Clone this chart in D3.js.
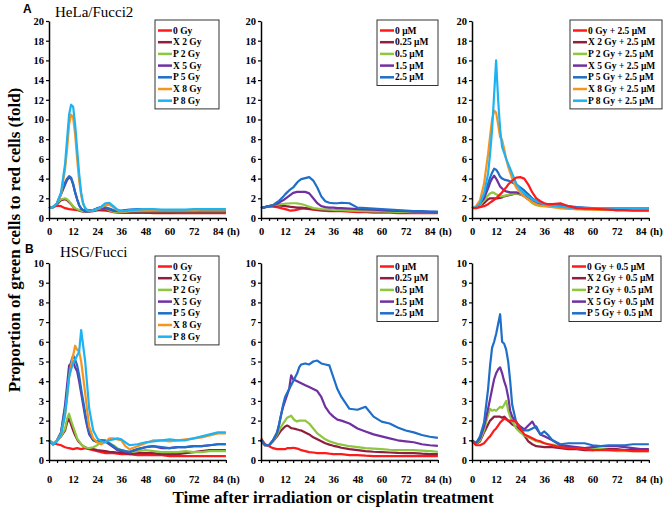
<!DOCTYPE html>
<html><head><meta charset="utf-8">
<script src="https://cdn.jsdelivr.net/npm/d3@7"></script>
<style>body{margin:0;background:#fff} svg{display:block}</style>
</head><body><svg id="c" width="666" height="512"></svg>
<script>
// ---------- DATA ----------
const times = [0,2,4,6,8, 9,10,11,12,13,14,15,16,17,18,19,20, 22,24,26,28,30,32,34,36,38,40, 44,48,52,56,60,64,68,72,76,80,84,88];
const xTickLabels = [0,12,24,36,48,60,72,84];

const irLabels = ["0 Gy","X 2 Gy","P 2 Gy","X 5 Gy","P 5 Gy","X 8 Gy","P 8 Gy"];
const cisLabels = ["0 \u03bcM","0.25 \u03bcM","0.5 \u03bcM","1.5 \u03bcM","2.5 \u03bcM"];
const helaComboLabels = ["0 Gy + 2.5 \u03bcM","X 2 Gy + 2.5 \u03bcM","P 2 Gy + 2.5 \u03bcM","X 5 Gy + 2.5 \u03bcM","P 5 Gy + 2.5 \u03bcM","X 8 Gy + 2.5 \u03bcM","P 8 Gy + 2.5 \u03bcM"];
const hsgComboLabels = ["0 Gy + 0.5 \u03bcM","X 2 Gy + 0.5 \u03bcM","P 2 Gy + 0.5 \u03bcM","X 5 Gy + 0.5 \u03bcM","P 5 Gy + 0.5 \u03bcM"];

// A: HeLa/Fucci2, irradiation
const helaIr = [
 [1.0,1.1,1.25,1.2,1.0, 0.95,0.9,0.88,0.85,0.83,0.8,0.8,0.8,0.8,0.8,0.8,0.8, 0.8,0.8,0.78,0.75,0.7,0.6,0.55,0.55,0.55,0.55, 0.55,0.55,0.5,0.5,0.5,0.5,0.5,0.5,0.5,0.5,0.5,0.5],
 [1.0,1.1,1.4,1.8,1.9, 1.8,1.6,1.4,1.15,0.95,0.85,0.75,0.7,0.65,0.65,0.65,0.65, 0.7,0.8,0.85,0.9,0.85,0.7,0.6,0.55,0.55,0.55, 0.55,0.55,0.55,0.55,0.55,0.6,0.6,0.6,0.6,0.6,0.6,0.6],
 [1.0,1.15,1.5,1.9,2.0, 1.9,1.7,1.45,1.2,1.0,0.9,0.8,0.75,0.7,0.7,0.7,0.7, 0.8,0.9,1.0,1.0,0.8,0.65,0.6,0.6,0.65,0.7, 0.7,0.7,0.7,0.7,0.7,0.7,0.7,0.7,0.7,0.7,0.7,0.7],
 [1.0,1.1,1.5,2.4,3.4, 3.85,4.1,4.0,3.4,2.6,1.9,1.3,0.95,0.8,0.7,0.7,0.7, 0.8,0.95,1.05,1.0,0.9,0.75,0.7,0.7,0.75,0.8, 0.8,0.8,0.8,0.8,0.8,0.8,0.8,0.8,0.8,0.8,0.8,0.8],
 [1.0,1.1,1.5,2.5,3.6, 4.0,4.25,4.1,3.5,2.6,1.9,1.3,0.95,0.8,0.7,0.7,0.7, 0.8,1.0,1.1,1.1,0.95,0.8,0.75,0.75,0.8,0.85, 0.9,0.85,0.8,0.8,0.8,0.8,0.8,0.8,0.8,0.8,0.8,0.8],
 [1.0,1.1,1.5,2.4,5.0, 7.0,9.5,10.5,10.2,8.5,6.0,3.8,2.3,1.4,1.0,0.8,0.7, 0.75,0.9,1.1,1.3,1.35,1.1,0.8,0.65,0.65,0.7, 0.75,0.8,0.8,0.8,0.8,0.8,0.8,0.8,0.85,0.85,0.85,0.85],
 [1.0,1.1,1.5,2.6,5.5, 8.0,10.5,11.5,11.3,9.5,7.0,4.5,2.6,1.5,1.0,0.8,0.7, 0.8,0.9,1.15,1.5,1.55,1.2,0.85,0.7,0.7,0.8, 0.85,0.9,0.9,0.85,0.85,0.85,0.85,0.9,0.9,0.9,0.9,0.9]
];
// A: HeLa/Fucci2, cisplatin
const helaCis = [
 [1.0,1.1,1.15,1.15,1.1, 1.05,1.0,0.95,0.9,0.85,0.78,0.75,0.78,0.8,0.85,0.9,0.95, 0.95,0.9,0.85,0.8,0.75,0.72,0.7,0.7,0.7,0.7, 0.65,0.6,0.6,0.55,0.55,0.55,0.5,0.5,0.5,0.5,0.5,0.5],
 [1.0,1.1,1.2,1.25,1.3, 1.28,1.25,1.22,1.2,1.18,1.15,1.12,1.1,1.08,1.06,1.05,1.05, 1.0,0.95,0.9,0.85,0.82,0.8,0.78,0.76,0.75,0.75, 0.72,0.7,0.68,0.66,0.65,0.64,0.62,0.6,0.6,0.6,0.6,0.6],
 [1.0,1.1,1.2,1.3,1.35, 1.38,1.4,1.42,1.45,1.47,1.48,1.5,1.5,1.5,1.48,1.45,1.42, 1.3,1.15,1.0,0.95,0.9,0.88,0.85,0.82,0.8,0.8, 0.75,0.72,0.7,0.68,0.66,0.65,0.63,0.62,0.6,0.6,0.6,0.6],
 [1.0,1.1,1.2,1.3,1.45, 1.55,1.7,1.8,1.95,2.1,2.25,2.4,2.55,2.6,2.65,2.65,2.65, 2.65,2.5,2.0,1.5,1.2,1.1,1.05,1.05,1.0,1.0, 0.95,0.9,0.88,0.85,0.8,0.75,0.72,0.7,0.65,0.65,0.62,0.6],
 [1.0,1.1,1.2,1.3,1.6, 1.75,1.95,2.15,2.4,2.6,2.8,2.95,3.1,3.35,3.6,3.8,3.95, 4.05,4.15,3.8,3.1,2.2,1.7,1.55,1.5,1.5,1.55, 1.5,1.05,1.0,0.95,0.9,0.85,0.8,0.75,0.7,0.7,0.65,0.65]
];
// A: HeLa/Fucci2, irradiation + 2.5 uM cisplatin
const helaCombo = [
 [1.0,1.0,1.1,1.2,1.4, 1.55,1.7,1.85,2.0,2.2,2.4,2.6,2.9,3.1,3.4,3.6,3.8, 4.1,4.15,4.0,3.4,2.6,2.0,1.7,1.5,1.4,1.4, 1.5,1.2,1.0,0.95,0.95,0.9,0.85,0.8,0.8,0.75,0.75,0.75],
 [1.0,1.05,1.2,1.5,1.9, 2.0,2.0,2.0,2.0,2.0,2.05,2.1,2.2,2.25,2.3,2.35,2.4, 2.5,2.4,2.2,1.9,1.6,1.4,1.3,1.25,1.2,1.2, 1.1,1.0,0.95,0.9,0.9,0.85,0.85,0.8,0.8,0.8,0.8,0.8],
 [1.0,1.05,1.3,1.8,2.3, 2.5,2.6,2.55,2.4,2.3,2.2,2.2,2.25,2.3,2.35,2.4,2.45, 2.5,2.45,2.2,1.9,1.5,1.3,1.2,1.2,1.2,1.2, 1.0,0.95,0.9,0.9,0.9,0.85,0.85,0.85,0.85,0.85,0.85,0.85],
 [1.0,1.1,1.5,2.0,3.0, 3.6,4.0,4.3,4.0,3.6,3.2,3.0,2.8,2.7,2.65,2.6,2.6, 2.6,2.5,2.3,2.0,1.7,1.5,1.4,1.35,1.3,1.3, 1.2,1.1,1.05,1.0,1.0,0.95,0.95,0.9,0.9,0.9,0.9,0.9],
 [1.0,1.1,1.5,2.3,3.5, 4.1,4.6,5.0,4.9,4.6,4.2,4.0,3.9,3.85,3.8,3.7,3.6, 3.4,3.1,2.8,2.4,2.0,1.7,1.55,1.45,1.4,1.35, 1.3,1.2,1.1,1.05,1.0,1.0,1.0,1.0,1.0,1.0,1.0,1.0],
 [1.0,1.2,1.8,3.5,6.5, 8.3,10.0,10.9,10.7,9.5,8.2,7.9,7.0,6.0,5.2,4.6,4.0, 3.1,2.6,2.2,1.9,1.6,1.4,1.25,1.2,1.15,1.1, 1.0,0.95,0.9,0.9,0.85,0.85,0.85,0.85,0.85,0.85,0.85,0.85],
 [1.0,1.1,1.5,2.5,4.5, 6.5,9.0,12.5,16.0,12.0,9.0,7.2,6.6,6.0,5.5,5.0,4.5, 3.5,2.9,2.5,2.2,1.9,1.7,1.55,1.4,1.3,1.25, 1.15,1.05,1.0,1.0,1.0,1.0,1.0,1.0,1.0,1.0,1.0,1.0]
];
// B: HSG/Fucci, irradiation
const hsgIr = [
 [1.0,0.85,0.8,0.75,0.65, 0.62,0.6,0.58,0.55,0.58,0.6,0.58,0.55,0.58,0.6,0.58,0.55, 0.5,0.45,0.4,0.35,0.35,0.35,0.32,0.3,0.3,0.3, 0.25,0.25,0.25,0.25,0.2,0.2,0.2,0.2,0.2,0.2,0.2,0.2],
 [1.0,0.8,1.0,1.2,1.5, 1.9,2.1,1.8,1.5,1.25,1.05,0.9,0.8,0.7,0.65,0.6,0.58, 0.55,0.5,0.48,0.45,0.42,0.4,0.38,0.36,0.35,0.3, 0.35,0.35,0.35,0.3,0.3,0.3,0.35,0.4,0.45,0.5,0.5,0.5],
 [1.0,0.8,1.0,1.2,1.6, 2.1,2.35,2.0,1.7,1.4,1.1,0.95,0.8,0.7,0.65,0.62,0.6, 0.65,0.75,0.9,0.95,0.85,0.75,0.6,0.5,0.45,0.4, 0.45,0.5,0.45,0.4,0.4,0.4,0.45,0.4,0.4,0.45,0.45,0.45],
 [1.0,0.8,1.0,1.4,2.8, 3.8,4.8,4.9,5.0,4.7,4.5,4.0,3.4,2.8,2.2,1.7,1.3, 1.0,0.9,1.0,0.95,0.8,0.65,0.5,0.45,0.42,0.4, 0.55,0.65,0.7,0.6,0.6,0.65,0.65,0.7,0.7,0.75,0.8,0.8],
 [1.0,0.8,1.0,1.4,2.6, 3.5,4.4,5.0,5.3,5.1,4.8,4.3,3.6,3.0,2.4,1.8,1.4, 1.0,0.95,1.0,1.0,0.85,0.7,0.55,0.5,0.45,0.42, 0.55,0.65,0.7,0.65,0.6,0.65,0.65,0.7,0.7,0.75,0.8,0.8],
 [1.0,0.85,1.0,1.3,2.3, 3.2,4.2,4.8,5.3,5.8,5.6,5.5,5.0,4.2,3.4,2.5,1.7, 1.1,0.9,0.8,0.9,1.1,1.1,1.05,1.0,0.7,0.55, 0.7,0.85,1.0,1.0,0.95,1.0,1.05,1.1,1.15,1.25,1.35,1.35],
 [1.0,0.8,0.95,1.3,2.3, 3.2,4.2,4.6,4.9,5.1,5.3,5.5,6.6,5.8,5.0,3.8,2.6, 1.5,1.1,0.95,0.9,1.0,1.05,1.1,1.05,0.9,0.75, 0.8,0.9,0.95,1.0,1.05,1.0,1.0,1.1,1.2,1.3,1.4,1.4]
];
// B: HSG/Fucci, cisplatin
const hsgCis = [
 [1.1,0.8,0.7,0.6,0.55, 0.55,0.55,0.55,0.55,0.6,0.6,0.6,0.62,0.6,0.58,0.55,0.5, 0.45,0.4,0.38,0.35,0.35,0.35,0.32,0.3,0.3,0.3, 0.25,0.25,0.22,0.2,0.2,0.2,0.2,0.2,0.2,0.2,0.2,0.2],
 [1.0,0.75,0.75,0.95,1.2, 1.35,1.5,1.6,1.7,1.75,1.7,1.62,1.6,1.58,1.55,1.52,1.5, 1.4,1.3,1.15,1.05,0.95,0.85,0.78,0.72,0.68,0.62, 0.55,0.5,0.45,0.42,0.4,0.38,0.36,0.35,0.35,0.32,0.3,0.3],
 [1.0,0.75,0.75,0.95,1.3, 1.5,1.7,1.85,2.0,2.15,2.2,2.25,2.1,2.0,1.95,2.0,2.0, 2.0,1.85,1.6,1.35,1.2,1.05,0.95,0.88,0.82,0.78, 0.7,0.65,0.6,0.58,0.55,0.52,0.5,0.5,0.5,0.48,0.45,0.42],
 [1.0,0.75,0.75,1.0,1.4, 1.8,2.3,2.7,3.0,3.3,3.6,4.3,4.1,4.05,4.0,3.95,3.9, 3.8,3.7,3.6,3.5,3.2,2.7,2.4,2.2,2.05,2.0, 1.85,1.6,1.45,1.3,1.2,1.1,1.0,0.95,0.9,0.8,0.75,0.72],
 [1.0,0.75,0.75,1.0,1.4, 1.8,2.3,2.8,3.2,3.4,3.6,3.8,4.0,4.2,4.4,4.7,4.85, 4.9,4.85,5.0,5.05,4.9,4.85,4.8,4.2,3.6,3.2, 2.6,2.55,2.7,2.2,1.95,1.85,1.65,1.5,1.4,1.27,1.18,1.12]
];
// B: HSG/Fucci, irradiation + 0.5 uM cisplatin
const hsgCombo = [
 [0.95,0.75,0.75,0.85,1.1, 1.2,1.35,1.5,1.6,1.75,1.9,2.0,2.1,2.05,2.0,2.0,2.0, 1.95,1.6,1.3,1.2,1.1,1.0,0.95,0.85,0.8,0.75, 0.65,0.6,0.6,0.55,0.5,0.5,0.5,0.5,0.5,0.45,0.45,0.45],
 [1.0,0.8,0.95,1.4,1.8, 2.0,2.1,2.2,2.2,2.2,2.2,2.15,2.2,2.1,2.0,1.9,1.8, 1.7,1.5,1.25,0.95,0.8,0.7,0.68,0.65,0.65,0.65, 0.6,0.55,0.55,0.5,0.5,0.55,0.55,0.55,0.5,0.5,0.5,0.5],
 [1.0,0.8,1.0,1.5,2.3, 2.6,2.5,2.55,2.5,2.6,2.7,2.65,2.8,3.0,2.5,2.2,2.0, 1.6,1.4,1.25,1.15,1.05,0.95,0.9,0.85,0.8,0.78, 0.7,0.65,0.6,0.6,0.6,0.55,0.5,0.45,0.45,0.45,0.45,0.45],
 [1.0,0.85,1.1,1.7,2.6, 3.1,3.6,4.1,4.4,4.6,4.7,4.4,4.0,3.7,3.2,2.5,2.2, 1.9,1.7,1.55,1.75,1.95,1.6,1.3,1.2,1.1,1.0, 0.75,0.7,0.65,0.6,0.65,0.7,0.7,0.7,0.65,0.6,0.55,0.55],
 [1.0,0.85,1.2,1.9,3.6, 4.8,5.7,6.0,6.4,6.9,7.4,6.0,5.9,5.6,5.0,4.0,2.8, 1.9,1.6,1.5,1.5,1.6,1.7,1.3,1.45,1.25,1.0, 0.8,0.85,0.85,0.85,0.75,0.7,0.75,0.75,0.75,0.8,0.8,0.8]
];

// ---------- DRAWING ----------
const svg = d3.select("#c");
const palette = ["#ff1a1a","#8e1f3e","#8dc63f","#7030a0","#1f6ec8","#f7941d","#1db3f2"];
const serif = "'Liberation Serif','Times New Roman',serif";

const panels = [
 {vals: helaIr, labels: irLabels, x0:49, yTop:21, yBot:218, yMax:20, yStep:2, lg:{x:155,y:20,w:64}, pad:6.5, redLast:false},
 {vals: helaCis, labels: cisLabels, x0:261, yTop:21, yBot:218, yMax:20, yStep:2, lg:{x:377,y:20,w:61}, pad:6.5, redLast:false},
 {vals: helaCombo, labels: helaComboLabels, x0:472, yTop:21, yBot:218, yMax:20, yStep:2, lg:{x:570,y:20,w:92}, pad:6.5, redLast:true},
 {vals: hsgIr, labels: irLabels, x0:49, yTop:263, yBot:460, yMax:10, yStep:1, lg:{x:155,y:256,w:64}, pad:12.5, redLast:false},
 {vals: hsgCis, labels: cisLabels, x0:261, yTop:263, yBot:460, yMax:10, yStep:1, lg:{x:377,y:256,w:61}, pad:12.5, redLast:false},
 {vals: hsgCombo, labels: hsgComboLabels, x0:472, yTop:263, yBot:460, yMax:10, yStep:1, lg:{x:569,y:256,w:92}, pad:12.5, redLast:true}
];

const pxPerHour = 2.01;
panels.forEach(p => {
  const x = d3.scaleLinear().domain([0, 88]).range([p.x0, p.x0 + 88 * pxPerHour]);
  const y = d3.scaleLinear().domain([0, p.yMax]).range([p.yBot, p.yTop]);
  const g = svg.append("g");

  // curves
  const line = d3.line().x((d, i) => x(times[i])).y(d => y(d));
  let order = p.vals.map((v, i) => i);
  if (p.redLast) order = order.slice(1).concat([0]);
  order.forEach(i => {
    g.append("path").attr("d", line(p.vals[i]))
      .attr("fill", "none").attr("stroke", palette[i])
      .attr("stroke-width", 2.2).attr("stroke-linejoin", "round");
  });

  // axes
  const xa = d3.axisBottom(x).tickValues(d3.range(0, 89, 4))
    .tickFormat(d => xTickLabels.includes(d) ? d : "").tickSize(3).tickSizeOuter(0).tickPadding(p.pad);
  const ya = d3.axisLeft(y).tickValues(d3.range(0, p.yMax + 0.001, p.yStep))
    .tickSize(3).tickSizeOuter(0).tickPadding(2);
  const gx = g.append("g").attr("transform", `translate(0,${p.yBot})`).call(xa);
  const gy = g.append("g").attr("transform", `translate(${p.x0},0)`).call(ya);
  [gx, gy].forEach(a => {
    a.select(".domain").attr("stroke", "#000").attr("stroke-width", 1.5);
    a.selectAll(".tick line").attr("stroke", "#000").attr("stroke-width", 1.2);
    a.selectAll("text").attr("font-family", serif).attr("font-weight", "bold")
      .attr("font-size", 10.5).attr("fill", "#000");
  });
  gx.append("text").attr("x", x(88) + 1).attr("y", 3 + p.pad).attr("dy", "0.71em")
    .attr("text-anchor", "start").text("(h)")
    .attr("font-family", serif).attr("font-weight", "bold").attr("font-size", 10.5).attr("fill", "#000");

  // legend
  const rowH = 11.7;
  const lh = p.labels.length * rowH + 7;
  const lg = g.append("g").attr("transform", `translate(${p.lg.x},${p.lg.y})`);
  lg.append("rect").attr("width", p.lg.w).attr("height", lh)
    .attr("fill", "#fff").attr("stroke", "#333").attr("stroke-width", 1);
  p.labels.forEach((lab, i) => {
    const cy = 10.5 + i * rowH;
    lg.append("line").attr("x1", 3).attr("x2", 17).attr("y1", cy).attr("y2", cy)
      .attr("stroke", palette[i]).attr("stroke-width", 2.5);
    lg.append("text").attr("x", 18).attr("y", cy).attr("dy", "0.33em")
      .attr("font-family", serif).attr("font-weight", "bold").attr("font-size", 9.5)
      .attr("fill", "#000").text(lab);
  });
});

// panel letters and subtitles
const txt = (x, y, s, size, weight, fam, anchor) =>
  svg.append("text").attr("x", x).attr("y", y).text(s)
    .attr("font-size", size).attr("font-weight", weight).attr("font-family", fam)
    .attr("text-anchor", anchor || "start").attr("fill", "#000");
txt(23, 13, "A", 12, "bold", "'Liberation Sans',Arial,sans-serif");
txt(55, 17, "HeLa/Fucci2", 15, "normal", serif);
txt(25, 253, "B", 12, "bold", "'Liberation Sans',Arial,sans-serif");
txt(60, 257, "HSG/Fucci", 15, "normal", serif);

// axis titles
svg.append("text").attr("transform", "translate(14,240) rotate(-90)")
  .attr("text-anchor", "middle").attr("dy", "0.35em")
  .attr("font-family", serif).attr("font-weight", "bold").attr("font-size", 17)
  .text("Proportion of green cells to red cells (fold)");
txt(333, 503, "Time after irradiation or cisplatin treatment", 17, "bold", serif, "middle");
</script>
</body></html>
